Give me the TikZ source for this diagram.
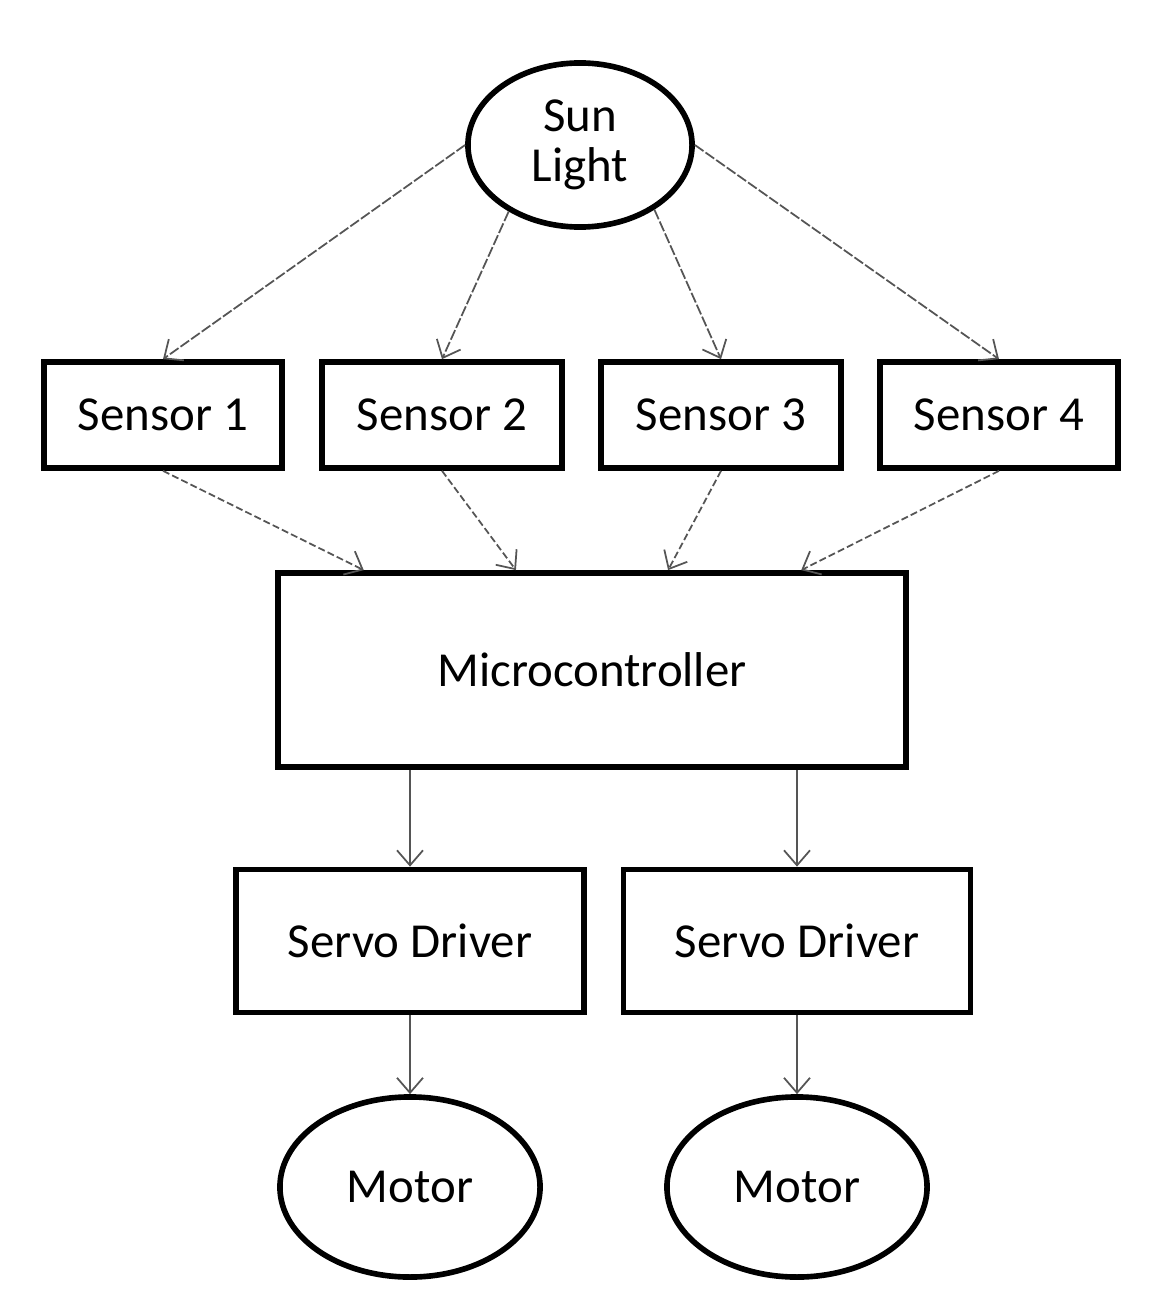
\documentclass[tikz,border=0pt]{standalone}
\usepackage{fontspec}
\setmainfont{Carlito}
\usepackage{tikz}
\usetikzlibrary{arrows.meta,calc,positioning,shapes.geometric}
\definecolor{wire}{RGB}{85,85,85}

\tikzset{
  blockbox/.style={draw=black,line width=1.6pt,rectangle,minimum height=1.06cm,font=\fontsize{13.9}{15}\selectfont},
  roundbox/.style={draw=black,line width=1.6pt,ellipse,font=\fontsize{13.9}{14.2}\selectfont,align=center,inner sep=1pt},
  ray/.style={->,draw=wire,line width=0.5pt,dash pattern=on 3pt off 0.7pt},
  feed/.style={->,draw=wire,line width=0.5pt,dash pattern=on 2pt off 0.9pt},
  link/.style={->,draw=wire,line width=0.5pt}
}

\begin{document}
\begin{tikzpicture}[x=0.01cm,y=-0.01cm,>={Straight Barb[length=1.5mm,width=2.6mm]}]
\useasboundingbox (0,0) rectangle (1172,1300);

%\node at (580,20) {title};
\node[roundbox,minimum width=2.24cm,minimum height=1.64cm] (sun) at (580,145) {Sun\\Light};

\node[blockbox,minimum width=2.38cm] (s1) at (163,415) {Sensor 1};
\node[blockbox,minimum width=2.40cm] (s2) at (442,415) {Sensor 2};
\node[blockbox,minimum width=2.40cm] (s3) at (721,415) {Sensor 3};
\node[blockbox,minimum width=2.38cm] (s4) at (999,415) {Sensor 4};

\node[blockbox,minimum width=6.28cm,minimum height=1.94cm] (mc) at (592,670) {Microcontroller};

\node[blockbox,minimum width=3.48cm,minimum height=1.43cm] (sd1) at (410,941) {Servo Driver};
\node[blockbox,minimum width=3.47cm,minimum height=1.43cm] (sd2) at (797,941) {Servo Driver};

\node[roundbox,minimum width=2.6cm,minimum height=1.8cm] (m1) at (410,1187) {Motor};
\node[roundbox,minimum width=2.6cm,minimum height=1.8cm] (m2) at (797,1187) {Motor};

% light to sensors
\draw[ray] (sun.west) -- (s1.north);
\draw[ray] (sun.223) -- (s2.north);
\draw[ray] (sun.319) -- (s3.north);
\draw[ray] (sun.east) -- (s4.north);

% sensors to controller
\draw[feed] (s1.south) -- ($(mc.north west)!0.14!(mc.north east)$);
\draw[feed] (s2.south) -- ($(mc.north west)!0.38!(mc.north east)$);
\draw[feed] (s3.south) -- ($(mc.north west)!0.62!(mc.north east)$);
\draw[feed] (s4.south) -- ($(mc.north west)!0.83!(mc.north east)$);

\draw[link] (sd1.north |- mc.south) -- (sd1.north);
\draw[link] (sd2.north |- mc.south) -- (sd2.north);
\draw[link] (sd1.south) -- (m1.north);
\draw[link] (sd2.south) -- (m2.north);
\end{tikzpicture}
\end{document}
